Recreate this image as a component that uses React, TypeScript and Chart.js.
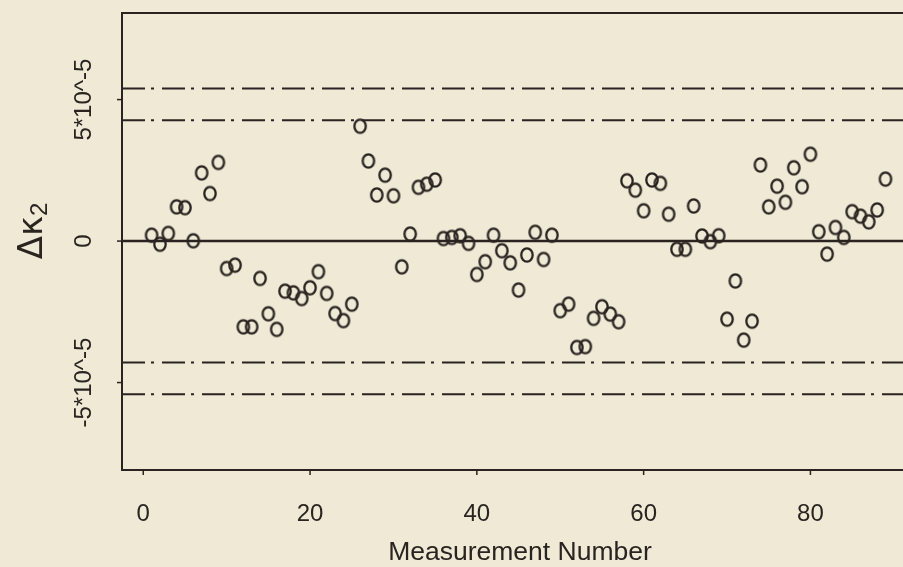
import { useEffect, useRef } from "react";
import { Chart, registerables } from "chart.js";
Chart.register(...registerables);

// Measurement numbers (x) and Δκ2 values in units of 1e-5 (y)
const measurementNumbers = [
  1, 2, 3, 4, 5, 6, 7, 8, 9, 10, 11, 12, 13, 14, 15, 16, 17, 18, 19, 20,
  21, 22, 23, 24, 25, 26, 27, 28, 29, 30, 31, 32, 33, 34, 35, 36, 37, 38, 39, 40,
  41, 42, 43, 44, 45, 46, 47, 48, 49, 50, 51, 52, 53, 54, 55, 56, 57, 58, 59, 60,
  61, 62, 63, 64, 65, 66, 67, 68, 69, 70, 71, 72, 73, 74, 75, 76, 77, 78, 79, 80,
  81, 82, 83, 84, 85, 86, 87, 88, 89,
];
const deltaKappa2 = [
  0.21, -0.11, 0.27, 1.21, 1.18, 0.01, 2.41, 1.68, 2.78, -0.97,
  -0.85, -3.03, -3.03, -1.32, -2.57, -3.12, -1.77, -1.83, -2.03, -1.65,
  -1.08, -1.85, -2.56, -2.81, -2.23, 4.06, 2.83, 1.63, 2.33, 1.6,
  -0.91, 0.25, 1.9, 2.01, 2.16, 0.09, 0.13, 0.19, -0.08, -1.18,
  -0.73, 0.21, -0.34, -0.77, -1.73, -0.49, 0.31, -0.65, 0.21, -2.46,
  -2.23, -3.76, -3.73, -2.73, -2.32, -2.58, -2.85, 2.13, 1.8, 1.07,
  2.16, 2.04, 0.95, -0.29, -0.29, 1.24, 0.18, -0.02, 0.19, -2.76,
  -1.41, -3.5, -2.83, 2.69, 1.21, 1.94, 1.37, 2.59, 1.92, 3.07,
  0.33, -0.46, 0.48, 0.13, 1.04, 0.88, 0.68, 1.1, 2.19,
];
const centerLine = [0];
const limitLines = [4.27, 5.39, -4.29, -5.41];
const yTickValues = [-5, 0, 5];
const yTickLabels = ["-5*10^-5", "0", "5*10^-5"];
const xTickValues = [0, 20, 40, 60, 80];
const xTickLabels = ["0", "20", "40", "60", "80"];
const xAxisTitle = "Measurement Number";
const yAxisTitleMain = "Δκ";
const yAxisTitleSub = "2";

const X_MIN = -2.55;
const X_MAX = 91.1;
const Y_MIN = -8.09;
const Y_MAX = 8.06;

const BG = "#efe9d6";
const INK = "#2a2320";
const FONT = "'Liberation Sans', Arial, Helvetica, sans-serif";

function makeMarker(): HTMLCanvasElement {
  const c = document.createElement("canvas");
  c.width = 18;
  c.height = 20;
  const g = c.getContext("2d")!;
  g.strokeStyle = INK;
  g.lineWidth = 2.3;
  g.beginPath();
  g.ellipse(9, 10, 5.7, 6.7, 0, 0, Math.PI * 2);
  g.stroke();
  return c;
}

const framePlugin = {
  id: "frame",
  beforeDraw(chart: any) {
    const ctx = chart.ctx;
    ctx.save();
    ctx.fillStyle = BG;
    ctx.fillRect(0, 0, chart.width, chart.height);
    ctx.restore();
  },
  afterDraw(chart: any) {
    const ctx = chart.ctx;
    const { left, top, bottom, right } = chart.chartArea;
    const xs = chart.scales.x;
    const ys = chart.scales.y;
    ctx.save();
    ctx.strokeStyle = INK;
    ctx.fillStyle = INK;
    ctx.lineWidth = 2;
    ctx.beginPath();
    ctx.moveTo(right + 2, top);
    ctx.lineTo(left, top);
    ctx.lineTo(left, bottom);
    ctx.lineTo(right + 2, bottom);
    ctx.stroke();
    // ticks
    ctx.lineWidth = 1.5;
    yTickValues.forEach((v) => {
      const y = ys.getPixelForValue(v);
      ctx.beginPath();
      ctx.moveTo(left - 5, y);
      ctx.lineTo(left, y);
      ctx.stroke();
    });
    xTickValues.forEach((v) => {
      const x = xs.getPixelForValue(v);
      ctx.beginPath();
      ctx.moveTo(x, bottom);
      ctx.lineTo(x, bottom + 5);
      ctx.stroke();
    });
    // x tick labels
    ctx.font = `24px ${FONT}`;
    ctx.textAlign = "center";
    ctx.textBaseline = "middle";
    xTickValues.forEach((v, i) => {
      ctx.fillText(xTickLabels[i], xs.getPixelForValue(v), 514);
    });
    // y tick labels (rotated)
    yTickValues.forEach((v, i) => {
      const y = ys.getPixelForValue(v);
      ctx.save();
      ctx.translate(84, y);
      ctx.rotate(-Math.PI / 2);
      ctx.fillText(yTickLabels[i], 0, 0);
      ctx.restore();
    });
    // x title
    ctx.font = `26.5px ${FONT}`;
    ctx.fillText(xAxisTitle, 520, 553);
    // y title
    ctx.save();
    ctx.translate(33, 231);
    ctx.rotate(-Math.PI / 2);
    ctx.font = `34px 'DejaVu Sans', ${FONT}`;
    const wMain = ctx.measureText(yAxisTitleMain).width;
    ctx.font = `24px ${FONT}`;
    const wSub = ctx.measureText(yAxisTitleSub).width;
    const start = -(wMain + wSub) / 2;
    ctx.textAlign = "left";
    ctx.font = `34px 'DejaVu Sans', ${FONT}`;
    ctx.fillText(yAxisTitleMain, start, 0);
    ctx.font = `24px ${FONT}`;
    ctx.fillText(yAxisTitleSub, start + wMain, 7);
    ctx.restore();
    ctx.restore();
  },
};

export default function App() {
  const ref = useRef<HTMLCanvasElement | null>(null);
  useEffect(() => {
    document.body.style.margin = "0";
    document.body.style.background = BG;
    const marker = makeMarker();
    const hLine = (v: number) => [
      { x: X_MIN, y: v },
      { x: X_MAX, y: v },
    ];
    const datasets: any[] = [];
    centerLine.forEach((v) =>
      datasets.push({
        type: "line",
        data: hLine(v),
        borderColor: INK,
        borderWidth: 2.5,
        pointRadius: 0,
        order: 2,
      })
    );
    limitLines.forEach((v) =>
      datasets.push({
        type: "line",
        data: hLine(v),
        borderColor: INK,
        borderWidth: 2,
        borderDash: [23, 6, 3, 8],
        pointRadius: 0,
        order: 2,
      })
    );
    datasets.push({
      type: "scatter",
      data: measurementNumbers.map((n, i) => ({ x: n, y: deltaKappa2[i] })),
      pointStyle: marker,
      pointRadius: 7,
      order: 1,
    });
    const chart = new Chart(ref.current!, {
      type: "scatter",
      data: { datasets },
      options: {
        animation: false,
        responsive: false,
        devicePixelRatio: 1,
        layout: {
          autoPadding: false,
          padding: { left: 122, top: 13, right: 0, bottom: 97 },
        },
        plugins: { legend: { display: false }, tooltip: { enabled: false } },
        scales: {
          x: { type: "linear", display: false, min: X_MIN, max: X_MAX },
          y: { type: "linear", display: false, min: Y_MIN, max: Y_MAX },
        },
      },
      plugins: [framePlugin],
    });
    return () => chart.destroy();
  }, []);
  return (
    <div style={{ width: 903, height: 567, background: BG }}>
      <canvas ref={ref} width={903} height={567} style={{ display: "block" }} />
    </div>
  );
}
